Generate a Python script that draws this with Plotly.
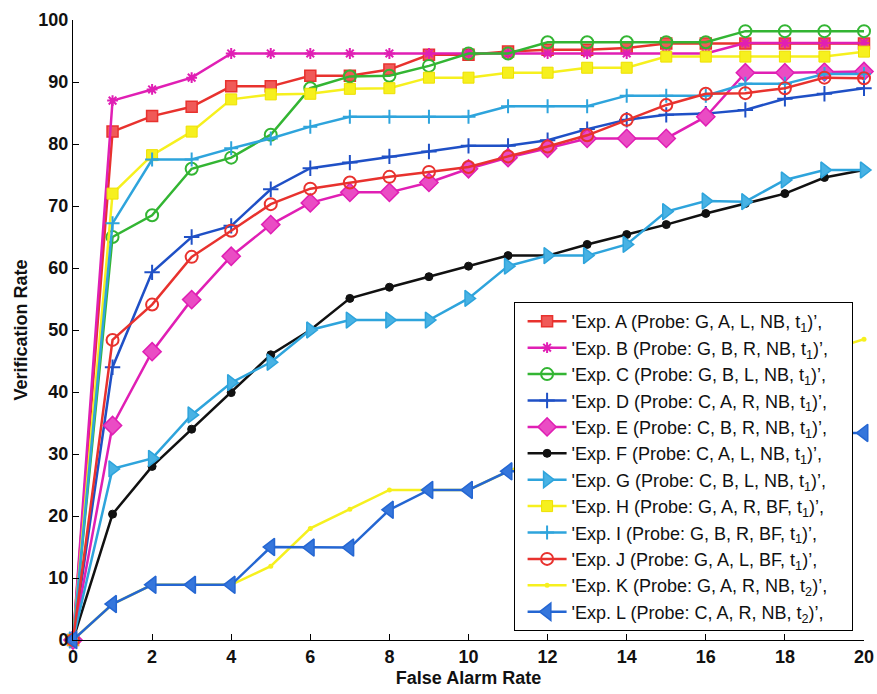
import plotly.graph_objects as go

# False alarm rate (x) shared by every experiment
far = list(range(0, 21))

# Verification rate per experiment
exp_a = [0, 82.0, 84.5, 86.0, 89.3, 89.3, 91.0, 91.0, 92.0, 94.4, 94.4, 94.9, 95.2, 95.2, 95.5, 96.2, 96.2, 96.2, 96.2, 96.2, 96.2]
exp_b = [0, 87.0, 88.8, 90.7, 94.6, 94.6, 94.6, 94.6, 94.6, 94.6, 94.6, 94.6, 94.6, 94.6, 94.6, 94.6, 94.6, 96.3, 96.3, 96.3, 96.3]
exp_c = [0, 65.0, 68.5, 76.0, 77.8, 81.5, 89.0, 90.9, 91.0, 92.6, 94.6, 94.6, 96.4, 96.4, 96.4, 96.4, 96.4, 98.2, 98.2, 98.2, 98.2]
exp_d = [0, 44.0, 59.3, 65.0, 66.8, 72.7, 76.1, 77.0, 78.0, 78.8, 79.7, 79.7, 80.6, 82.4, 83.9, 84.7, 84.9, 85.5, 87.3, 88.1, 89.0]
exp_e = [0, 34.6, 46.5, 54.9, 61.9, 67.0, 70.5, 72.2, 72.2, 73.8, 76.0, 77.8, 79.3, 80.9, 80.9, 80.9, 84.4, 91.5, 91.5, 91.6, 91.7]
exp_f = [0, 20.3, 28.0, 34.0, 39.9, 46.0, 50.0, 55.1, 56.9, 58.6, 60.3, 62.0, 62.0, 63.8, 65.4, 67.0, 68.8, 70.4, 72.0, 74.6, 75.8]
exp_g = [0, 27.6, 29.3, 36.3, 41.5, 44.8, 50.0, 51.6, 51.6, 51.6, 55.1, 60.3, 62.0, 62.0, 63.8, 69.1, 70.8, 70.7, 74.2, 75.8, 75.8]
exp_h = [0, 72.0, 78.2, 82.0, 87.2, 88.0, 88.1, 88.9, 89.0, 90.7, 90.7, 91.5, 91.5, 92.3, 92.3, 94.1, 94.1, 94.1, 94.1, 94.1, 94.9]
exp_i = [0, 67.2, 77.5, 77.5, 79.3, 80.9, 82.8, 84.4, 84.4, 84.4, 84.4, 86.1, 86.1, 86.1, 87.8, 87.8, 87.8, 89.7, 89.7, 91.3, 91.3]
exp_j = [0, 48.4, 54.1, 61.8, 66.0, 70.3, 72.8, 73.8, 74.7, 75.5, 76.3, 78.0, 79.6, 81.4, 83.9, 86.3, 88.1, 88.2, 89.0, 90.7, 90.6]
exp_k = [0, 5.8, 8.9, 8.9, 8.9, 11.9, 18.0, 21.1, 24.2, 24.2, 24.2, 27.2, 30.0, 33.0, 35.5, 38.0, 40.5, 42.5, 44.5, 46.5, 48.5]
exp_l = [0, 5.8, 8.9, 8.9, 8.9, 15.0, 14.9, 14.9, 21.0, 24.2, 24.2, 27.2, 27.2, 28.8, 28.8, 30.3, 30.3, 31.8, 31.8, 33.4, 33.4]

# Legend labels; a trailing em space gives the box some room on the right
names = [
    "'Exp. A (Probe: G, A, L, NB, t<sub>1</sub>)’,\u2003",
    "'Exp. B (Probe: G, B, R, NB, t<sub>1</sub>)’,\u2003",
    "'Exp. C (Probe: G, B, L, NB, t<sub>1</sub>)’,\u2003",
    "'Exp. D (Probe: C, A, R, NB, t<sub>1</sub>)’,\u2003",
    "'Exp. E (Probe: C, B, R, NB, t<sub>1</sub>)’,\u2003",
    "'Exp. F (Probe: C, A, L, NB, t<sub>1</sub>)’,\u2003",
    "'Exp. G (Probe: C, B, L, NB, t<sub>1</sub>)’,\u2003",
    "'Exp. H (Probe: G, A, R, BF, t<sub>1</sub>)’,\u2003",
    "'Exp. I (Probe: G, B, R, BF, t<sub>1</sub>)’,\u2003",
    "'Exp. J (Probe: G, A, L, BF, t<sub>1</sub>)’,\u2003",
    "'Exp. K (Probe: G, A, R, NB, t<sub>2</sub>)’,\u2003",
    "'Exp. L (Probe: C, A, R, NB, t<sub>2</sub>)’,\u2003",
]

series = [exp_a, exp_b, exp_c, exp_d, exp_e, exp_f, exp_g, exp_h, exp_i, exp_j, exp_k, exp_l]

RED = "#e8322e"
MAG = "#e01fb4"
GRN = "#33b533"
DBL = "#1f50c6"
BLK = "#111111"
LBL = "#2ea4dc"
YEL = "#f6f01e"
LBL2 = "#2466d2"

styles = [
    dict(color=RED, marker=dict(symbol="square", size=11, color="#f05a58", line=dict(color=RED, width=1.5))),
    dict(color=MAG, marker=dict(symbol="asterisk-open", size=9, color=MAG, line=dict(color=MAG, width=2))),
    dict(color=GRN, marker=dict(symbol="circle-open", size=12, color=GRN, line=dict(color=GRN, width=2))),
    dict(color=DBL, marker=dict(symbol="cross-thin-open", size=11, color=DBL, line=dict(color=DBL, width=2))),
    dict(color=MAG, marker=dict(symbol="diamond", size=14, color="#ea4cc4", line=dict(color=MAG, width=1.5))),
    dict(color=BLK, marker=dict(symbol="circle", size=8, color=BLK, line=dict(color=BLK, width=1))),
    dict(color=LBL, marker=dict(symbol="triangle-right", size=14, color="#48b2e4", line=dict(color=LBL, width=1.5))),
    dict(color=YEL, marker=dict(symbol="square", size=11, color=YEL, line=dict(color="#eee000", width=1))),
    dict(color=LBL, marker=dict(symbol="cross-thin-open", size=10, color=LBL, line=dict(color=LBL, width=2))),
    dict(color=RED, marker=dict(symbol="circle-open", size=12, color=RED, line=dict(color=RED, width=2))),
    dict(color=YEL, marker=dict(symbol="circle", size=5, color=YEL, line=dict(color=YEL, width=0))),
    dict(color=LBL2, marker=dict(symbol="triangle-left", size=15, color="#3576dc", line=dict(color=LBL2, width=1.5))),
]

fig = go.Figure()
for i, (name, ys, st) in enumerate(zip(names, series, styles)):
    fig.add_trace(go.Scatter(
        x=far, y=ys, name=name, mode="lines+markers",
        line=dict(color=st["color"], width=2.5),
        marker=st["marker"], cliponaxis=False,
        legendgroup=f"g{i}",
    ))

tick_font = dict(family="Liberation Sans, Arial, sans-serif", size=18, color="#111", weight="bold")
title_font = dict(family="Liberation Sans, Arial, sans-serif", size=18, color="#111", weight="bold")

fig.update_layout(
    width=877, height=694,
    margin=dict(l=73, r=13, t=20, b=54),
    paper_bgcolor="white", plot_bgcolor="white",
    showlegend=True,
    legend=dict(
        x=0.557, y=0.545, xanchor="left", yanchor="top",
        bgcolor="white", bordercolor="black", borderwidth=1,
        font=dict(family="Liberation Sans, Arial, sans-serif", size=18, color="#111"),
        itemwidth=39, indentation=8, tracegroupgap=0,
    ),
    xaxis=dict(
        range=[0, 20], tickmode="array", tickvals=list(range(0, 21, 2)),
        ticks="inside", ticklen=6, tickcolor="black",
        showline=True, linecolor="black", linewidth=1,
        showgrid=False, zeroline=False, tickfont=tick_font, automargin=False,
        title=dict(text="False Alarm Rate", font=title_font, standoff=5),
    ),
    yaxis=dict(
        range=[0, 100], tickmode="array", tickvals=list(range(0, 101, 10)),
        ticks="inside", ticklen=6, tickcolor="black",
        showline=True, linecolor="black", linewidth=1,
        showgrid=False, zeroline=False, tickfont=tick_font, automargin=False,
        title=dict(text="Verification Rate", font=title_font, standoff=6),
    ),
)

fig.write_html("out.html")
